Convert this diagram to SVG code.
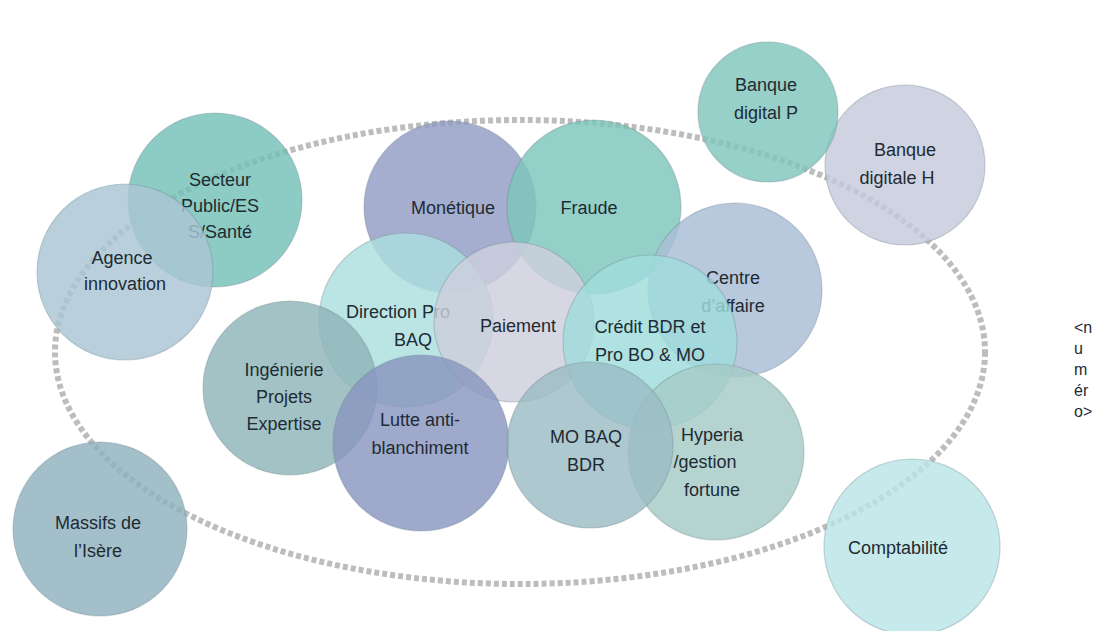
<svg xmlns="http://www.w3.org/2000/svg" width="1102" height="631" viewBox="0 0 1102 631">
<style>
  .c { stroke: #6f8790; stroke-opacity: 0.35; stroke-width: 1.2; fill-opacity: 0.82; }
  .t { font-family: "Liberation Sans", Arial, sans-serif; font-size: 18px; fill: #1e2b33; text-anchor: middle; }
  .n { font-family: "Liberation Sans", Arial, sans-serif; font-size: 16px; fill: #1e2b33; }
  .frame { fill: none; stroke: #bdbdbd; stroke-width: 6; stroke-dasharray: 5 3; }
</style>
<rect width="1102" height="631" fill="#ffffff"/>
<g id="frame">
  <ellipse class="frame" cx="520" cy="352" rx="465" ry="232"/>
</g>
<g id="connectors"></g>
<g id="secteur">
  <circle class="c" cx="215" cy="200" r="87" fill="#74c1b8"/>
  <text class="t" x="220" y="186">Secteur</text>
  <text class="t" x="220" y="212">Public/ES</text>
  <text class="t" x="220" y="238">S/Santé</text>
</g>
<g id="agence">
  <circle class="c" cx="125" cy="272" r="88" fill="#a9c6d4"/>
  <text class="t" x="122" y="264">Agence</text>
  <text class="t" x="125" y="290">innovation</text>
</g>
<g id="monetique">
  <circle class="c" cx="450" cy="207" r="86" fill="#919cc4"/>
  <text class="t" x="453" y="214">Monétique</text>
</g>
<g id="fraude">
  <circle class="c" cx="594" cy="207" r="87" fill="#7cc6bb"/>
  <text class="t" x="589" y="214">Fraude</text>
</g>
<g id="banque-h">
  <circle class="c" cx="905" cy="165" r="80" fill="#c6c9da"/>
  <text class="t" x="905" y="156">Banque</text>
  <text class="t" x="897" y="184">digitale H</text>
</g>
<g id="banque-p">
  <circle class="c" cx="768" cy="112" r="70" fill="#7fc6bd"/>
  <text class="t" x="766" y="91">Banque</text>
  <text class="t" x="766" y="119">digital P</text>
</g>
<g id="centre">
  <circle class="c" cx="735" cy="290" r="87" fill="#a8bdd6"/>
  <text class="t" x="733" y="284">Centre</text>
  <text class="t" x="733" y="312">d’affaire</text>
</g>
<g id="direction">
  <circle class="c" cx="406" cy="320" r="87" fill="#acdede"/>
  <text class="t" x="398" y="318">Direction Pro</text>
  <text class="t" x="413" y="346">BAQ</text>
</g>
<g id="paiement">
  <circle class="c" cx="514" cy="322" r="80" fill="#cdcedd"/>
  <text class="t" x="518" y="332">Paiement</text>
</g>
<g id="credit">
  <circle class="c" cx="650" cy="342" r="87" fill="#9fdcdc"/>
  <text class="t" x="650" y="333">Crédit BDR et</text>
  <text class="t" x="650" y="361">Pro BO &amp; MO</text>
</g>
<g id="ingenierie">
  <circle class="c" cx="290" cy="388" r="87" fill="#8fb4ba"/>
  <text class="t" x="284" y="376">Ingénierie</text>
  <text class="t" x="284" y="403">Projets</text>
  <text class="t" x="284" y="430">Expertise</text>
</g>
<g id="lutte">
  <circle class="c" cx="421" cy="443" r="88" fill="#8996c0"/>
  <text class="t" x="420" y="426">Lutte anti-</text>
  <text class="t" x="420" y="454">blanchiment</text>
</g>
<g id="hyperia">
  <circle class="c" cx="716" cy="452" r="88" fill="#a5cac6"/>
  <text class="t" x="712" y="441">Hyperia</text>
  <text class="t" x="705" y="468">/gestion</text>
  <text class="t" x="712" y="496">fortune</text>
</g>
<g id="mo-baq">
  <circle class="c" cx="590" cy="445" r="83" fill="#9bbcc4"/>
  <text class="t" x="586" y="443">MO BAQ</text>
  <text class="t" x="586" y="471">BDR</text>
</g>
<g id="massifs">
  <circle class="c" cx="100" cy="529" r="87" fill="#8fb1bd"/>
  <text class="t" x="98" y="529">Massifs de</text>
  <text class="t" x="98" y="557">l’Isère</text>
</g>
<g id="comptabilite">
  <circle class="c" cx="912" cy="547" r="88" fill="#b9e5e8"/>
  <text class="t" x="898" y="554">Comptabilité</text>
</g>
<g id="numero">
  <text class="n" x="1074" y="333">&lt;n</text>
  <text class="n" x="1074" y="354">u</text>
  <text class="n" x="1074" y="375">m</text>
  <text class="n" x="1074" y="396">ér</text>
  <text class="n" x="1074" y="417">o&gt;</text>
</g>
</svg>
